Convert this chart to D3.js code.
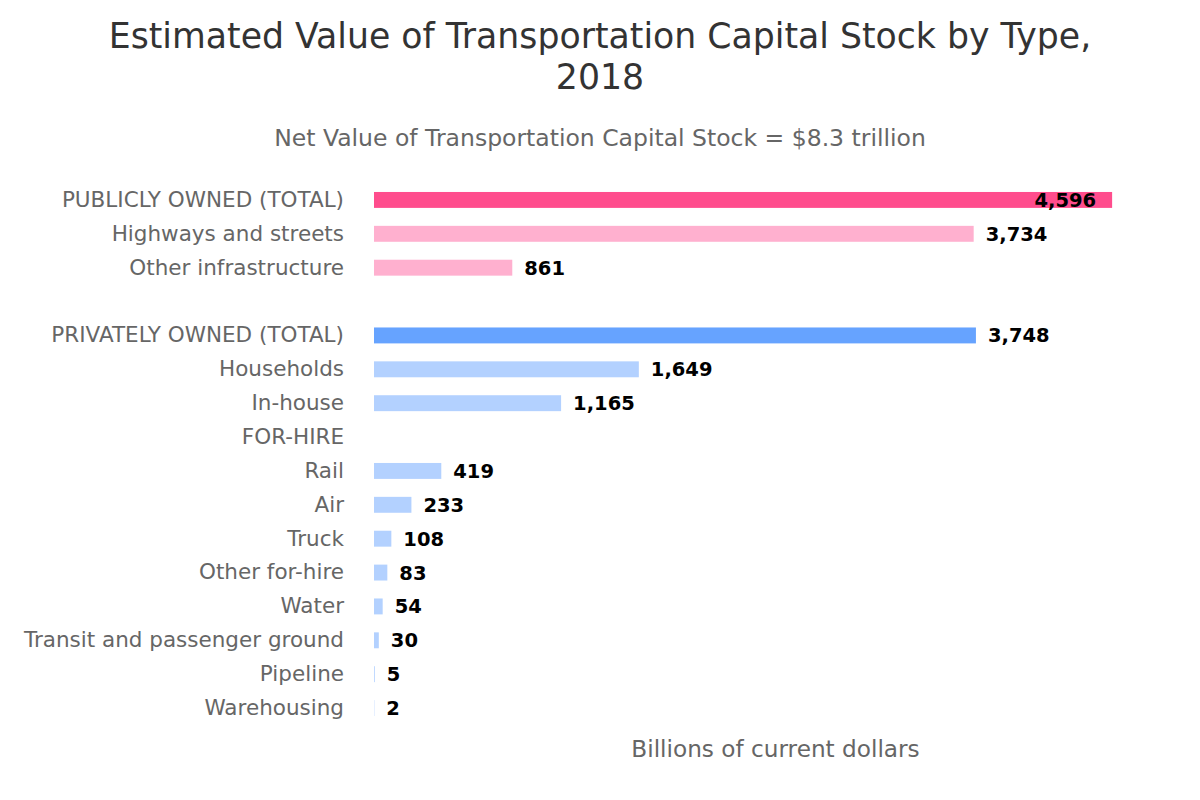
<!DOCTYPE html>
<html>
<head>
<meta charset="utf-8">
<script src="https://cdn.jsdelivr.net/npm/d3@7"></script>
<style>
    body { margin: 0; background: #fff; }
    svg { font-family: "DejaVu Sans", Verdana, sans-serif; }
</style>
</head>
<body>
<svg id="chart" width="1200" height="800"></svg>
<script>
// Chart data
const categories = [
    'PUBLICLY OWNED (TOTAL)', 'Highways and streets', 'Other infrastructure', '',
    'PRIVATELY OWNED (TOTAL)', 'Households', 'In-house', 'FOR-HIRE',
    'Rail', 'Air', 'Truck', 'Other for-hire', 'Water',
    'Transit and passenger ground', 'Pipeline', 'Warehousing'
];
const values = [4596, 3734, 861, null, 3748, 1649, 1165, null, 419, 233, 108, 83, 54, 30, 5, 2];
const groups = ['pubTotal', 'pub', 'pub', null, 'privTotal', 'priv', 'priv', null,
    'priv', 'priv', 'priv', 'priv', 'priv', 'priv', 'priv', 'priv'];
const xDomain = [0, 5000];

const colors = {
    pubTotal: '#ff4d8d',
    pub: '#ffb0cf',
    privTotal: '#66a3ff',
    priv: '#b3d1ff'
};

const svg = d3.select('#chart');
const margin = { left: 374, right: 23, top: 183, bottom: 75 };
const width = 1200, height = 800;

const rows = categories.map((c, i) => ({ key: i, label: c, value: values[i], group: groups[i] }));

const x = d3.scaleLinear().domain(xDomain).range([margin.left, width - margin.right]);
const y = d3.scaleBand()
    .domain(rows.map(d => d.key))
    .range([margin.top, 725])
    .paddingInner(0.53)
    .paddingOuter(0.265);

// Title
svg.append('text')
    .attr('x', 600).attr('y', 48)
    .attr('text-anchor', 'middle')
    .attr('font-size', '34.7px')
    .attr('fill', '#333')
    .text('Estimated Value of Transportation Capital Stock by Type,');
svg.append('text')
    .attr('x', 600).attr('y', 89)
    .attr('text-anchor', 'middle')
    .attr('font-size', '34.7px')
    .attr('fill', '#333')
    .text('2018');

// Subtitle
svg.append('text')
    .attr('x', 600).attr('y', 146)
    .attr('text-anchor', 'middle')
    .attr('font-size', '23.5px')
    .attr('fill', '#666')
    .text('Net Value of Transportation Capital Stock = $8.3 trillion');

// Category labels
svg.append('g')
    .attr('transform', `translate(${margin.left - 30}, 0)`)
    .call(d3.axisLeft(y).tickSize(0).tickPadding(0).tickFormat(k => categories[k]))
    .call(g => g.select('.domain').remove())
    .selectAll('text')
    .attr('font-family', '"DejaVu Sans", Verdana, sans-serif')
    .attr('font-size', '21.5px')
    .attr('fill', '#666');

// Bars
const withValue = rows.filter(d => d.value !== null);
svg.selectAll('.bar')
    .data(withValue)
    .enter()
    .append('rect')
    .attr('class', 'bar')
    .attr('x', x(0))
    .attr('y', d => y(d.key))
    .attr('width', d => x(d.value) - x(0))
    .attr('height', y.bandwidth())
    .attr('fill', d => colors[d.group]);

// Value labels (inside the bar when it would overflow)
svg.selectAll('.value-label')
    .data(withValue)
    .enter()
    .append('text')
    .attr('class', 'value-label')
    .attr('x', d => x(d.value) > 1050 ? x(d.value) - 16 : x(d.value) + 12)
    .attr('y', d => y(d.key) + y.bandwidth() / 2)
    .attr('dy', '0.36em')
    .attr('text-anchor', d => x(d.value) > 1050 ? 'end' : 'start')
    .attr('font-size', '19.5px')
    .attr('font-weight', 'bold')
    .attr('fill', '#000')
    .text(d => d3.format(',')(d.value));

// Axis title
svg.append('text')
    .attr('x', (x.range()[0] + x.range()[1]) / 2)
    .attr('y', 757)
    .attr('text-anchor', 'middle')
    .attr('font-size', '23.2px')
    .attr('fill', '#666')
    .text('Billions of current dollars');
</script>
</body>
</html>
